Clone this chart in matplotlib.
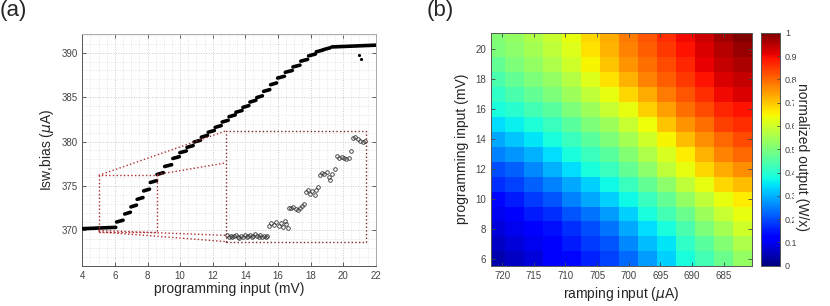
"""
(a) staircase of I_sw,bias vs programming input, (b) normalized output map
"""
import matplotlib.pyplot as plt
import numpy as np

plt.rcParams['font.family'] = ['Liberation Sans', 'DejaVu Sans']

# ---- panel (a): plateaus of the staircase (mV, uA)
step_x0 = [4.0, 6.1, 6.6, 6.98, 7.36, 7.76, 8.17, 8.58, 9.05, 9.55, 9.98, 10.42, 10.85, 11.3, 11.72, 12.15,
           12.58, 13.0, 13.42, 13.85, 14.28, 14.7, 15.12, 15.55, 15.98, 16.45, 16.92, 17.4, 17.88, 18.35, 18.8, 19.3]
step_x1 = [6.05, 6.5, 6.95, 7.32, 7.72, 8.12, 8.55, 8.97, 9.48, 9.95, 10.38, 10.8, 11.25, 11.68, 12.1, 12.52,
           12.95, 13.38, 13.8, 14.22, 14.65, 15.05, 15.5, 15.92, 16.4, 16.88, 17.35, 17.82, 18.3, 18.75, 19.2, 22.0]
# level at the start and at the end of each plateau (they creep up a little)
step_y0 = [370.2, 370.95, 371.85, 372.65, 373.5, 374.45, 375.4, 376.3, 377.2, 378.1, 378.75, 379.35, 379.95,
           380.5, 381.05, 381.6, 382.2, 382.8, 383.3, 383.85, 384.45, 384.95, 385.65, 386.4, 387.15, 387.8,
           388.4, 389.05, 389.65, 390.1, 390.35, 390.65]
step_y1 = [370.35, 371.15, 372.05, 372.85, 373.7, 374.65, 375.6, 376.5, 377.4, 378.3, 378.95, 379.55, 380.15,
           380.7, 381.25, 381.8, 382.4, 383.0, 383.5, 384.05, 384.65, 385.15, 385.85, 386.6, 387.35, 388.0,
           388.6, 389.25, 389.85, 390.3, 390.55, 390.85]
outlier_x = [21.0, 21.08]
outlier_y = [389.74, 389.26]

# magnified points shown inside the inset box
inset_x = [12.9, 13.0, 13.12, 13.2, 13.33, 13.42, 13.55, 13.63, 13.75, 13.86, 13.95, 14.08, 14.17, 14.3,
           14.38, 14.5, 14.6, 14.7, 14.82, 14.9, 15.02, 15.12, 15.25, 15.35,
           15.48, 15.6, 15.75, 15.9, 16.05, 16.18, 16.3, 16.42, 16.52, 16.6,
           16.68, 16.8, 16.95, 17.1, 17.25, 17.35, 17.45, 17.6,
           17.72, 17.85, 17.98, 18.1, 18.25, 18.35, 18.45,
           18.58, 18.72, 18.85, 19.0, 19.12, 19.2, 19.32, 19.48,
           19.6, 19.75, 19.9, 20.05, 20.2, 20.35, 20.48,
           20.62, 20.75, 20.9, 21.05, 21.2, 21.33]
inset_y = [369.45, 369.3, 369.4, 369.25, 369.35, 369.48, 369.3, 369.2, 369.4, 369.3, 369.45, 369.25, 369.38,
           369.5, 369.3, 369.42, 369.6, 369.35, 369.25, 369.45, 369.3, 369.4, 369.28, 369.35,
           370.45, 370.8, 370.6, 370.95, 370.55, 370.85, 370.4, 371.1, 370.75, 370.3,
           372.55, 372.5, 372.6, 372.45, 372.35, 372.5, 372.75, 373.0,
           374.3, 374.5, 374.1, 374.4, 373.95, 374.6, 374.85,
           376.2, 376.45, 376.35, 376.6, 376.0, 375.7, 376.4, 376.95,
           378.35, 378.2, 378.3, 378.1, 378.0, 378.2, 378.95,
           380.4, 380.55, 380.25, 380.1, 380.0, 380.05]

zoom_box = [5.0, 8.6, 369.85, 376.2]      # x0, x1, y0, y1
inset_box = [12.8, 21.4, 368.75, 381.2]
# connector lines: (x_from, y_from, x_to, y_to)
connectors = [(5.0, 376.2, 12.8, 381.2), (8.6, 376.3, 12.8, 377.6),
              (5.0, 370.0, 12.8, 369.45), (5.0, 369.85, 12.8, 368.75)]

# ---- panel (b): normalized output, rows = programming input, cols = ramping input
ramp_x = [721, 718, 715, 712, 709, 706, 703, 700, 697, 694, 691, 688, 685, 682]
prog_y = [6, 7, 8, 9, 10, 11, 12, 13, 14, 15, 16, 17, 18, 19, 20, 21]
out_z = [
    [0.04, 0.06, 0.08, 0.11, 0.13, 0.16, 0.19, 0.23, 0.28, 0.33, 0.38, 0.43, 0.48, 0.53],
    [0.06, 0.08, 0.10, 0.12, 0.15, 0.18, 0.21, 0.26, 0.31, 0.35, 0.41, 0.46, 0.51, 0.56],
    [0.08, 0.10, 0.12, 0.14, 0.17, 0.20, 0.24, 0.29, 0.34, 0.38, 0.44, 0.50, 0.55, 0.60],
    [0.10, 0.12, 0.15, 0.17, 0.21, 0.24, 0.28, 0.33, 0.38, 0.43, 0.48, 0.54, 0.59, 0.63],
    [0.13, 0.15, 0.18, 0.21, 0.25, 0.29, 0.33, 0.37, 0.42, 0.47, 0.53, 0.58, 0.63, 0.66],
    [0.17, 0.19, 0.22, 0.25, 0.29, 0.33, 0.37, 0.42, 0.47, 0.52, 0.58, 0.63, 0.68, 0.71],
    [0.20, 0.22, 0.26, 0.30, 0.34, 0.38, 0.42, 0.47, 0.52, 0.58, 0.63, 0.68, 0.73, 0.76],
    [0.25, 0.27, 0.30, 0.34, 0.38, 0.42, 0.46, 0.51, 0.56, 0.61, 0.66, 0.72, 0.77, 0.80],
    [0.29, 0.32, 0.35, 0.38, 0.42, 0.46, 0.50, 0.55, 0.60, 0.65, 0.71, 0.76, 0.80, 0.83],
    [0.34, 0.36, 0.39, 0.42, 0.46, 0.50, 0.54, 0.59, 0.64, 0.70, 0.75, 0.79, 0.84, 0.86],
    [0.38, 0.40, 0.43, 0.46, 0.50, 0.54, 0.59, 0.63, 0.69, 0.74, 0.79, 0.83, 0.87, 0.89],
    [0.41, 0.44, 0.47, 0.50, 0.54, 0.58, 0.63, 0.68, 0.73, 0.78, 0.82, 0.86, 0.90, 0.92],
    [0.44, 0.47, 0.50, 0.53, 0.57, 0.62, 0.67, 0.72, 0.77, 0.81, 0.85, 0.89, 0.92, 0.94],
    [0.47, 0.50, 0.53, 0.56, 0.60, 0.65, 0.70, 0.75, 0.79, 0.83, 0.87, 0.91, 0.94, 0.96],
    [0.50, 0.52, 0.55, 0.58, 0.62, 0.67, 0.72, 0.77, 0.81, 0.85, 0.89, 0.92, 0.95, 0.98],
    [0.51, 0.53, 0.56, 0.59, 0.63, 0.68, 0.73, 0.78, 0.82, 0.86, 0.90, 0.93, 0.97, 1.0],
]
cbar_ticks = [0, 0.1, 0.2, 0.3, 0.4, 0.5, 0.6, 0.7, 0.8, 0.9, 1]

TICK_C = '#444444'
RED = '#b03030'

fig = plt.figure(figsize=(8.3, 3.06), dpi=100)
ax1 = fig.add_axes([0.0992, 0.1307, 0.3535, 0.758])
ax2 = fig.add_axes([0.5912, 0.1317, 0.3152, 0.7614])
cax = fig.add_axes([0.9169, 0.1317, 0.0229, 0.7614])

# ---- panel (a)
for x0, x1, y0, y1 in zip(step_x0, step_x1, step_y0, step_y1):
    ax1.plot([x0, x1], [y0, y1], color='black', lw=2.6, solid_capstyle='round', zorder=3)
ax1.plot(outlier_x, outlier_y, '.', color='black', ms=2.5, zorder=3)
ax1.plot(inset_x, inset_y, 'o', mfc='none', mec='#333333', ms=2.6, mew=0.6, zorder=3)

bx0, bx1, by0, by1 = zoom_box
ax1.plot([bx0, bx1, bx1, bx0, bx0], [by0, by0, by1, by1, by0], ls=':', color=RED, lw=1.0, zorder=4)
ix0, ix1, iy0, iy1 = inset_box
ax1.plot([ix0, ix1, ix1, ix0, ix0], [iy0, iy0, iy1, iy1, iy0], ls=':', color='#7a2a2a', lw=1.0, zorder=4)
for xa, ya, xb, yb in connectors:
    ax1.plot([xa, xb], [ya, yb], ls=':', color=RED, lw=1.0, zorder=4)

ax1.set_xlim(4, 22)
ax1.set_ylim(366, 392.1)
ax1.set_xticks(np.arange(4, 23, 2))
ax1.set_yticks([370, 375, 380, 385, 390])
ax1.set_xticks(np.arange(4, 22.01, 0.5), minor=True)
ax1.set_yticks(np.arange(366, 392.1, 1), minor=True)
ax1.grid(which='major', ls=':', color='#c8c8c8', lw=0.7)
ax1.grid(which='minor', ls=':', color='#e0e0e0', lw=0.6)
ax1.set_axisbelow(True)
ax1.tick_params(which='major', direction='in', length=3, width=0.6, labelsize=7, colors=TICK_C,
                top=True, right=True)
ax1.tick_params(which='minor', length=0)
ax1.set_xlabel('programming input (mV)', fontsize=10, color='#262626', labelpad=1)
ax1.set_ylabel('Isw,bias ($\\mu$A)', fontsize=10, color='#262626', labelpad=4)
for s in ax1.spines.values():
    s.set_color('#555555')
    s.set_linewidth(0.7)
ax1.spines['top'].set_color('#aaaaaa')
ax1.spines['right'].set_color('#aaaaaa')

# ---- panel (b)
mesh = ax2.pcolormesh(ramp_x, prog_y, np.array(out_z), cmap='jet', vmin=0, vmax=1, shading='nearest')
ax2.set_xlim(721.8, 680.5)
ax2.set_ylim(5.55, 21.1)
ax2.set_xticks([720, 715, 710, 705, 700, 695, 690, 685])
ax2.set_yticks([6, 8, 10, 12, 14, 16, 18, 20])
ax2.tick_params(direction='in', length=3, width=0.6, labelsize=7, colors=TICK_C, top=True, right=True)
ax2.set_xlabel('ramping input ($\\mu$A)', fontsize=10, color='#262626', labelpad=3)
ax2.set_ylabel('programming input (mV)', fontsize=10, color='#262626', labelpad=4)
for s in ax2.spines.values():
    s.set_color('#555555')
    s.set_linewidth(0.7)

cb = fig.colorbar(mesh, cax=cax, ticks=cbar_ticks)
cb.ax.set_yticklabels([f'{t:g}' for t in cbar_ticks])
cb.ax.tick_params(direction='in', length=2.5, width=0.6, labelsize=6.5, colors=TICK_C)
cb.outline.set_edgecolor('#555555')
cb.outline.set_linewidth(0.7)
fig.text(0.966, 0.487, 'normalized output (W/x)', rotation=270, fontsize=10, color='#262626',
         ha='center', va='center', bbox=dict(facecolor='white', edgecolor='none', pad=0.5))

fig.text(0.0, 1.0, '(a)', fontsize=16, ha='left', va='top', color='#262626')
fig.text(0.514, 1.0, '(b)', fontsize=16, ha='left', va='top', color='#262626')

fig.savefig('out.png', dpi=100)
